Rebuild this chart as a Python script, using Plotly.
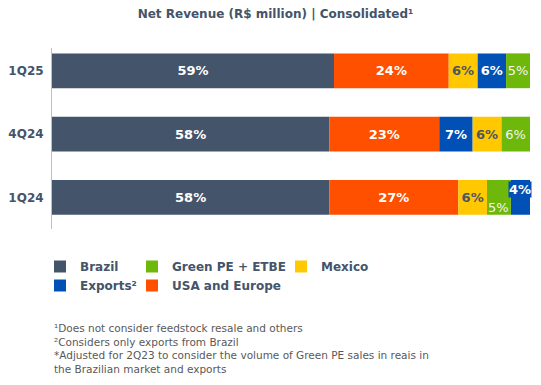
import plotly.graph_objects as go

categories = ["1Q25", "4Q24", "1Q24"]
brazil = [59, 58, 58]
usa_europe = [24, 23, 27]
mexico = [6, 6, 6]
exports = [6, 7, 4]
green = [5, 6, 5]
# stacking order of the small segments (after Brazil, USA and Europe) per quarter
small_order = {
    "1Q25": ["Mexico", "Exports", "Green"],
    "4Q24": ["Exports", "Mexico", "Green"],
    "1Q24": ["Mexico", "Green", "Exports"],
}

series = {
    "Brazil": brazil,
    "USA": usa_europe,
    "Mexico": mexico,
    "Exports": exports,
    "Green": green,
}
names = {
    "Brazil": "Brazil",
    "USA": "USA and Europe",
    "Mexico": "Mexico",
    "Exports": "Exports²",
    "Green": "Green PE + ETBE",
}
colors = {
    "Brazil": "#44546A",
    "USA": "#FF5000",
    "Mexico": "#FFC800",
    "Exports": "#0050B5",
    "Green": "#6EB70B",
}
label_colors = {
    "Brazil": "white",
    "USA": "white",
    "Mexico": "#4F5561",
    "Exports": "white",
    "Green": "#F5F5F5",
}
label_weight = {"Brazil": "bold", "USA": "bold", "Mexico": "bold", "Exports": "bold", "Green": "normal"}
legend_of = {"Brazil": "legend", "Exports": "legend", "Green": "legend2", "USA": "legend2", "Mexico": "legend3"}

# compute bases from the data
bases = {k: [0] * len(categories) for k in series}
for i, c in enumerate(categories):
    cum = 0
    for k in ["Brazil", "USA"] + small_order[c]:
        bases[k][i] = cum
        cum += series[k][i]

# labels drawn as offset annotations instead of inside the bar (yshift in px, up positive)
special = {("Green", "1Q24"): dict(yshift=-10, bg=None), ("Exports", "1Q24"): dict(yshift=8, bg=colors["Exports"])}

FONT = "DejaVu Sans"
TXT = "#44546A"

fig = go.Figure()
for k in ["Brazil", "Exports", "Green", "USA", "Mexico"]:
    vals = series[k]
    texts = ["" if (k, c) in special else f"{vals[i]}%" for i, c in enumerate(categories)]
    fig.add_trace(go.Bar(
        y=categories, x=vals, base=bases[k], orientation="h",
        name=names[k], marker=dict(color=colors[k], line=dict(width=0)),
        width=0.55,
        text=texts, textposition="inside", insidetextanchor="middle", textangle=0,
        insidetextfont=dict(family=FONT, size=13, color=label_colors[k], weight=label_weight[k]),
        hoverinfo="skip", legend=legend_of[k],
    ))

for (k, c), opt in special.items():
    i = categories.index(c)
    fig.add_annotation(
        x=bases[k][i] + series[k][i] / 2, y=c, xref="x", yref="y",
        text=f"{series[k][i]}%", showarrow=False, yshift=opt["yshift"],
        font=dict(family=FONT, size=13, color=label_colors[k], weight=label_weight[k]),
        bgcolor=opt["bg"] if opt["bg"] else "rgba(0,0,0,0)", borderpad=0,
    )

legend_common = dict(
    orientation="v", xref="container", yref="container", yanchor="top", xanchor="left",
    font=dict(family=FONT, size=12, color=TXT, weight="bold"),
    bgcolor="rgba(0,0,0,0)", tracegroupgap=0, itemclick=False, itemdoubleclick=False,
)

fig.update_layout(
    width=541, height=385,
    margin=dict(l=52, r=11, t=48, b=156, autoexpand=False),
    paper_bgcolor="white", plot_bgcolor="white",
    barmode="overlay", showlegend=True,
    uniformtext=dict(minsize=13, mode="show"),
    title=dict(
        text="Net Revenue (R$ million) | Consolidated¹",
        font=dict(family=FONT, size=12, color=TXT, weight="bold"),
        xref="container", x=275.5 / 541, xanchor="center",
        yref="container", y=1 - 14 / 385, yanchor="middle",
    ),
    xaxis=dict(range=[0, 100], visible=False, fixedrange=True),
    yaxis=dict(
        categoryorder="array", categoryarray=categories, range=[2.5, -0.36],
        showline=True, linecolor="#BFBFBF", linewidth=1, showgrid=False, zeroline=False,
        ticks="", ticklabelstandoff=5, automargin=False, fixedrange=True,
        tickfont=dict(family=FONT, size=12, color=TXT, weight="bold"),
    ),
    legend=dict(x=40 / 541, y=1 - 252 / 385, **legend_common),
    legend2=dict(x=132 / 541, y=1 - 252 / 385, **legend_common),
    legend3=dict(x=281 / 541, y=1 - 252 / 385, **legend_common),
)

fig.add_annotation(
    xref="paper", yref="paper", x=0, y=(229 - 320) / 181,
    xanchor="left", yanchor="top", showarrow=False, align="left",
    text="¹Does not consider feedstock resale and others<br>²Considers only exports from Brazil<br>"
         "*Adjusted for 2Q23 to consider the volume of Green PE sales in reais in<br>the Brazilian market and exports",
    font=dict(family=FONT, size=10.5, color="#595959"),
)

fig.write_html("out.html", config={"displayModeBar": False},
               post_script="document.body.style.margin='0';")
